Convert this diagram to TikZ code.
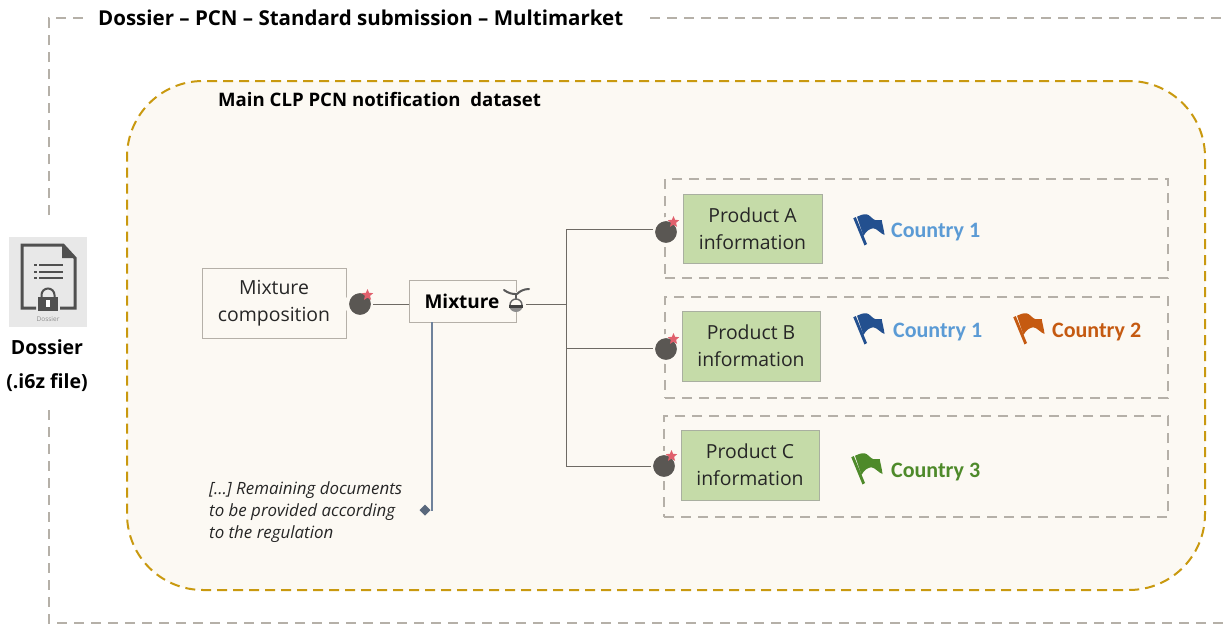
\documentclass[tikz,border=0pt]{standalone}
\usepackage{fontspec}
\setmainfont{Open Sans}
\newfontfamily\calib{Carlito}
\usetikzlibrary{shapes.geometric,calc}
\definecolor{bgc}{HTML}{FCF9F3}
\definecolor{goldc}{HTML}{C9990F}
\definecolor{dashc}{HTML}{B5B0A8}
\definecolor{greenbox}{HTML}{C5DBA8}
\definecolor{greenedge}{HTML}{A9AFA0}
\definecolor{linec}{HTML}{6E6A64}
\definecolor{bluelink}{HTML}{6F829B}
\definecolor{bombc}{HTML}{5A5753}
\definecolor{starc}{HTML}{E0606C}
\definecolor{flagblue}{HTML}{23508F}
\definecolor{textblue}{HTML}{5B9BD5}
\definecolor{flagorange}{HTML}{C55A11}
\definecolor{flaggreen}{HTML}{4E8A2A}
\definecolor{icong}{HTML}{505050}
\tikzset{
  pxt/.style={inner sep=0pt,outer sep=0pt,align=center,font=\fontsize{19.4}{27}\selectfont,text=black!85},
  outerdash/.style={draw=dashc,line width=1.6pt,dash pattern=on 10pt off 7pt},
  boxdash/.style={draw=dashc,line width=1.8pt,dash pattern=on 10pt off 7pt,inner sep=0pt,outer sep=0pt},
  prodbox/.style={pxt,draw=greenedge,fill=greenbox,line width=1pt},
  whitebox/.style={pxt,draw=dashc,line width=0.9pt,fill=bgc},
  bombn/.style={circle,fill=bombc,draw=bgc,line width=4pt,minimum size=26pt,inner sep=0pt,outer sep=0pt},
  starn/.style={star,star points=5,star point ratio=2.2,fill=starc,minimum size=12pt,inner sep=0pt},
  conn/.style={draw=linec,line width=1pt},
  clab/.style={inner sep=0pt,anchor=west,font=\calib\bfseries\fontsize{22}{25}\selectfont},
  flagpic/.pic={
    \fill[pic actions] (0.3,4.3) -- (2.8,3) -- (14,30) -- (11.5,31.5) -- cycle;
    \fill[pic actions] (4,2.7) .. controls (7,1) and (11,0) .. (13.7,0.3) .. controls (17,1) and (19,5) .. (22,6)
      .. controls (24,6.5) and (27,6) .. (28.7,6) .. controls (29.5,11) and (31,16) .. (31.5,21)
      .. controls (28,20) and (24,14.5) .. (20.3,14.3) .. controls (17,14.5) and (13,17) .. (10.5,22) -- cycle;
  }
}
\begin{document}
\begin{tikzpicture}[x=1pt,y=-1pt]
\useasboundingbox (0,0) rectangle (1227,624);
\fill[white] (0,0) rectangle (1227,624);

% outer dashed frame
\coordinate (of1) at (49,215);
\coordinate (of2) at (49,18);
\coordinate (of3) at (85,18);
\coordinate (of4) at (650,18);
\coordinate (of5) at (1227,18);
\coordinate (of6) at (49,410);
\coordinate (of7) at (49,623);
\coordinate (of8) at (1227,623);
\draw[outerdash] (of1) -- (of2) -- (of3);
\draw[outerdash] (of4) -- (of5);
\draw[outerdash] (of6) -- (of7) -- (of8);
\node[anchor=west,inner sep=0pt,font=\bfseries\fontsize{20.5}{25}\selectfont] (title) at (98,18) {Dossier – PCN – Standard submission – Multimarket};

% main dataset
\node[draw=goldc,fill=bgc,line width=2pt,dash pattern=on 10pt off 6pt,rounded corners=76pt,
  minimum width=1078pt,minimum height=509pt,inner sep=0pt,outer sep=0pt] (main) at (666,335.5) {};
\node[anchor=west,inner sep=0pt,font=\bfseries\fontsize{18.6}{22}\selectfont] (maint) at (218,99) {Main CLP PCN notification\ \ dataset};

% dossier icon
\node[fill=black!9,minimum width=78pt,minimum height=90pt,inner sep=0pt] (dicon) at (48,282) {};
\draw[icong,line width=3pt,line join=miter] (36,308) -- (22,308) -- (22,245) -- (63,245) -- (75,258) -- (75,308) -- (60,308);
\fill[icong] (62,244) -- (76,258) -- (62,258) -- cycle;
\foreach \yy in {264,271,277}{
  \fill[icong] (34,\yy) rectangle (36.5,\yy+2);
  \draw[icong,line width=2pt] (39,\yy+1) -- (63,\yy+1);
}
\fill[icong] (38,297) rectangle (58,311);
\draw[icong,line width=2pt] (41.5,297) -- (41.5,295) arc[start angle=180,end angle=360,radius=6.5] -- (54.5,297);
\fill[white] (46,300) rectangle (50,307);
\node[inner sep=0pt,font=\fontsize{6.5}{8}\selectfont,text=black!45] (dsm) at (48,319) {Dossier};
\node[inner sep=0pt,align=center,font=\bfseries\fontsize{19.5}{34}\selectfont] (dlab) at (47,366) {Dossier\\(.i6z file)};

% mixture composition and mixture
\node[whitebox,minimum width=144pt,minimum height=70pt] (mc) at (274,303.5) {Mixture\\composition};
\node[whitebox,minimum width=107pt,minimum height=42pt,anchor=west] (mx) at (409,301) {};
\node[inner sep=0pt,font=\bfseries\fontsize{19}{24}\selectfont] (mxt) at (462,301) {Mixture};
\node[bombn] (bm) at (360,304) {};
\node[starn] (sm) at (367.5,295) {};

% mixture icon (propeller)
\node[circle,fill=bgc,minimum size=20pt,inner sep=0pt,outer sep=0pt] (mi) at (516,302) {};
\begin{scope}[shift={(516,302)}]
\draw[black!65,line width=1.4pt] (0,-9) -- (0,-2);
\draw[black!60,line width=1.4pt] (-6,3) arc[start angle=180,end angle=360,radius=6];
\fill[black!45] (-7,3) arc[start angle=180,end angle=0,radius=7] -- cycle;
\fill[black!75] (-7,3) rectangle (7,6);
\draw[black!65,line width=2pt,line cap=round] (-12,-12) .. controls (-8,-9) and (-4,-8) .. (-1,-8);
\draw[black!65,line width=2pt,line cap=round] (1,-8) .. controls (4,-11) and (8,-13) .. (13,-13);
\end{scope}

% product rows
\node[boxdash,minimum width=503pt,minimum height=99pt] (ra) at (916.5,228.5) {};
\node[boxdash,minimum width=503pt,minimum height=101pt] (rb) at (916.5,347.5) {};
\node[boxdash,minimum width=504pt,minimum height=101pt] (rc) at (916,466.5) {};

\node[prodbox,minimum width=139pt,minimum height=69pt] (pa) at (752.5,228.5) {Product A\\information};
\node[prodbox,minimum width=138pt,minimum height=70pt] (pb) at (751,346) {Product B\\information};
\node[prodbox,minimum width=138pt,minimum height=70pt] (pc) at (750,465) {Product C\\information};

\node[bombn] (ba) at (666,232) {};
\node[starn] (sa) at (673.5,222) {};
\node[bombn] (bb) at (666,349) {};
\node[starn] (sb) at (673.5,339) {};
\node[bombn] (bc) at (664,466) {};
\node[starn] (sc) at (671.5,456) {};

% connectors
\coordinate (jt) at (566,229);
\coordinate (jm) at (566,304);
\coordinate (jb1) at (566,348);
\coordinate (jb) at (566,466);
\draw[conn] (bm) -- (mx.west |- bm);
\draw[conn] (mi.east |- jm) -- (jm);
\draw[conn] (ba.west |- jt) -- (jt) -- (jb) -- (bc);
\draw[conn] (jb1) -- (bb.west |- jb1);

% side documents
\node[diamond,fill=bluelink!80!black,minimum size=11pt,inner sep=0pt,outer sep=0pt] (dm) at (425,510) {};
\draw[bluelink,line width=1.3pt] (432,322) -- (432,510) -- (dm);
\node[anchor=north west,inner sep=0pt,align=left,font=\itshape\fontsize{16.9}{22}\selectfont,text=black!85] (rem) at (209,481) {[…] Remaining documents\\to be provided according\\to the regulation};

% flags and countries
\pic[fill=flagblue] at (853,214) {flagpic};
\node[clab,text=textblue] (ca) at (891,232) {Country 1};
\pic[fill=flagblue] at (853,313) {flagpic};
\node[clab,text=textblue] (cb) at (893,332) {Country 1};
\pic[fill=flagorange] at (1013,313) {flagpic};
\node[clab,text=flagorange] (cd) at (1052,332) {Country 2};
\pic[fill=flaggreen] at (851,453) {flagpic};
\node[clab,text=flaggreen] (ce) at (891,472) {Country 3};
\end{tikzpicture}
\end{document}
